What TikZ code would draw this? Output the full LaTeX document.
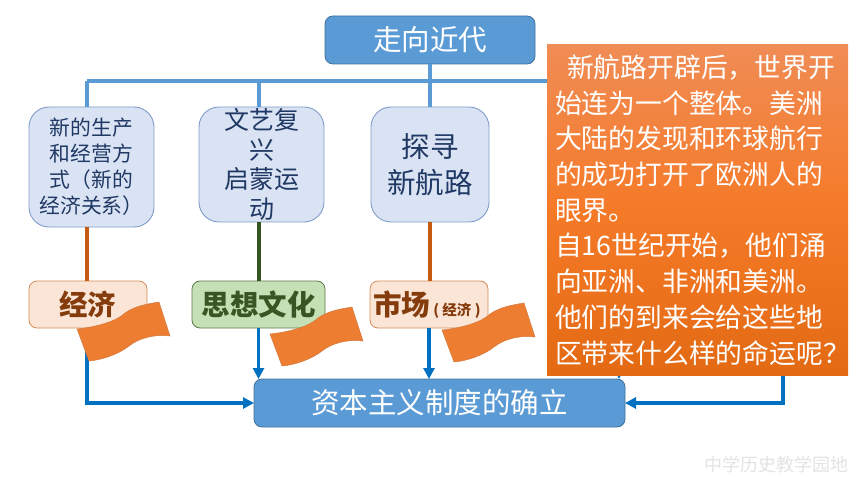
\documentclass[tikz,border=0pt]{standalone}
\usepackage{fontspec}
\setmainfont{Noto Sans CJK SC}
\usetikzlibrary{positioning,arrows.meta}
\definecolor{azul}{HTML}{5B9BD5}
\definecolor{azulosc}{HTML}{41719C}
\definecolor{flecha}{HTML}{0070C0}
\definecolor{claro}{HTML}{DAE3F3}
\definecolor{bordeclaro}{HTML}{7F9DC8}
\definecolor{marino}{HTML}{1F3864}
\definecolor{naranja}{HTML}{C55A11}
\definecolor{bandera}{HTML}{ED7D31}
\definecolor{melocoton}{HTML}{FBE5D6}
\definecolor{marron}{HTML}{843C0C}
\definecolor{verde}{HTML}{375623}
\definecolor{verdeclaro}{HTML}{C5E0B4}
\definecolor{panela}{HTML}{F08C55}
\definecolor{panelb}{HTML}{F57A28}
\definecolor{panelc}{HTML}{E36A13}
\newcommand{\fs}[2]{\fontsize{#1}{#2}\selectfont}
\begin{document}
\begin{tikzpicture}[x=1pt, y=-1pt, >={Triangle[length=11pt,width=11pt]},
      m/.style={draw=azulosc, fill=azul, rounded corners=8pt, text=white, inner sep=0pt, outer sep=0pt,
                line width=0.8pt, font=\fs{28.5}{34}},
      b/.style={draw=bordeclaro, fill=claro, rounded corners=20pt, text=marino, inner sep=0pt, outer sep=0pt,
                line width=0.9pt, align=center, minimum width=125pt, minimum height=115pt},
      l/.style={draw=naranja!70, fill=melocoton, rounded corners=8pt, text=marron, inner sep=0pt, outer sep=0pt,
                line width=0.8pt, minimum height=47pt, font=\bfseries\fs{28.5}{32}},
      bus/.style={draw=azul, line width=4pt},
      link/.style={line width=4pt},
      go/.style={draw=flecha, line width=3.5pt, ->},
      flag/.pic={\draw[fill=bandera, draw=naranja!80, line width=0.5pt] (0,0)
                  .. controls (20,-2) and (40,-8) .. (48,-16)
                  .. controls (58,-23) and (70,-25) .. (82,-27) -- (93,7)
                  .. controls (78,5) and (62,9) .. (52,17)
                  .. controls (42,25) and (25,31) .. (12,32) -- cycle;}]
    \useasboundingbox (0,0) rectangle (860,484);
    % top of the chart
    \node[m, minimum width=210pt, minimum height=48pt] (top) at (430,40) {走向近代};
    \node[b, minimum height=120pt, anchor=north west, font=\fs{20.8}{26}] (econbox) at (29,107)
      {新的生产\\和经营方\\式（新的\\经济关系）};
    \node[b, right=45pt of econbox.north east, anchor=north west, font=\fs{25}{29.5}] (thoughtbox)
      {文艺复\\兴\\启蒙运\\动};
    \node[b, minimum width=118pt, right=47pt of thoughtbox.north east, anchor=north west, font=\fs{28.5}{36}] (navbox)
      {探寻\\新航路};
    % middle row
    \node[l, minimum width=118pt] (econlabel) at (88,304.5) {经济};
    \node[l, draw=verde!80, fill=verdeclaro, text=verde, minimum width=133pt, right=45pt of econlabel] (thoughtlabel) {思想文化};
    \node[l, minimum width=118pt, right=45pt of thoughtlabel] (marketlabel)
      {\hspace{-4pt}市场\hspace{3pt}{\fs{14.5}{16}( 经济 )}};
    \node[m, minimum width=371pt, minimum height=48pt] (result) at (439.5,403) {资本主义制度的确立};
    % connectors
    \coordinate (busl) at (87,81);
    \coordinate (busr) at (547,81);
    \coordinate (hidden) at (619,360);
    \coordinate (rightend) at (783,375);
    \draw[bus] (busl) -- (busr);
    \draw[bus] (top.south) -- (navbox.north);
    \draw[bus] (busl) -- (busl |- econbox.north);
    \draw[bus] (thoughtlabel.north |- busl) -- (thoughtlabel.north |- thoughtbox.north);
    \draw[link, naranja] (busl |- econbox.south) -- (busl |- econlabel.north);
    \draw[link, verde] (thoughtlabel.north |- thoughtbox.south) -- (thoughtlabel.north);
    \draw[link, naranja] (navbox.south) -- (navbox.south |- marketlabel.north);
    \draw[go] (busl |- econlabel.south) |- (result.west);
    \draw[go] (thoughtlabel.south) -- (thoughtlabel.south |- result.north);
    \draw[go] (marketlabel.south) -- (marketlabel.south |- result.north);
    \draw[go] (hidden) -- (hidden |- result.north);
    \draw[go] (rightend) |- (result.east);
    % flags over the labels
    \pic at (77,329) {flag};
    \pic at (270,334) {flag};
    \pic at (442,330) {flag};
    % text panel
    \node[anchor=north west, minimum width=301pt, minimum height=330pt, inner ysep=0pt, outer sep=0pt,
          top color=panela, bottom color=panelc, middle color=panelb,
          text=white, align=left, text width=285pt, inner xsep=8pt, font=\fs{26.8}{35.7}] (panel) at (547,45)
      {\hspace{12pt}新航路开辟后，世界开\\
       始连为一个整体。美洲\\
       大陆的发现和环球航行\\
       的成功打开了欧洲人的\\
       眼界。\\
       自16世纪开始，他们涌\\
       向亚洲、非洲和美洲。\\
       他们的到来会给这些地\\
       区带来什么样的命运呢？};
    \node[text=gray!22, font=\fs{18}{20}] (mark) at (776,465) {中学历史教学园地};
\end{tikzpicture}
\end{document}
